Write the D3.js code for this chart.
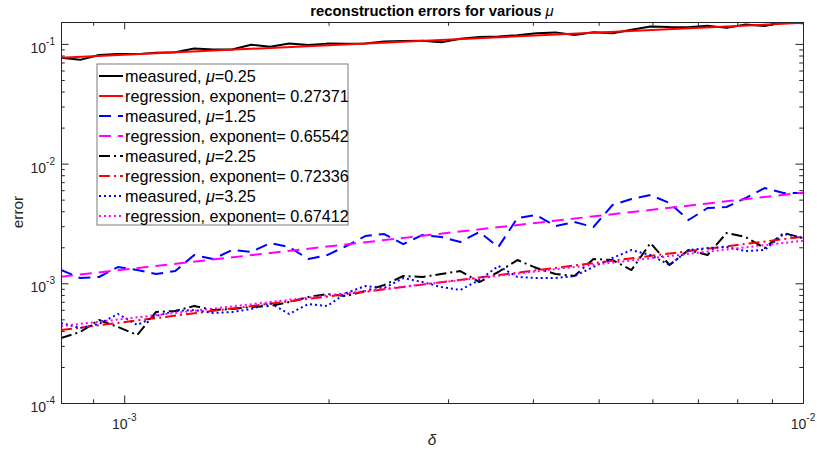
<!DOCTYPE html>
<html>
<head>
<meta charset="utf-8">
<script src="https://cdn.jsdelivr.net/npm/d3@7"></script>
<style>
  body { margin: 0; background: #fff; }
  text { font-family: "Liberation Sans", Arial, Helvetica, sans-serif; fill: #262626; }
</style>
</head>
<body>
<div id="chart"></div>
<script>
// step sizes delta (x values)
var delta = [0.000807, 0.000861, 0.000918, 0.000979, 0.001045, 0.001114, 0.001189, 0.001268,
  0.001352, 0.001442, 0.001538, 0.001641, 0.001750, 0.001867, 0.001991, 0.002124,
  0.002265, 0.002416, 0.002577, 0.002749, 0.002932, 0.003127, 0.003336, 0.003558,
  0.003795, 0.004048, 0.004318, 0.004605, 0.004912, 0.005240, 0.005589, 0.005961,
  0.006358, 0.006782, 0.007234, 0.007716, 0.008230, 0.008779, 0.009364, 0.01];

// measured errors
var err025 = [0.0767, 0.0736, 0.0809, 0.0824, 0.0822, 0.0844, 0.0851, 0.0917,
  0.0898, 0.0897, 0.0985, 0.0946, 0.1009, 0.0979, 0.1006, 0.1002,
  0.1009, 0.1049, 0.1057, 0.1065, 0.1033, 0.1103, 0.1144, 0.1153,
  0.1184, 0.1228, 0.1249, 0.1189, 0.1254, 0.1228, 0.1312, 0.1399,
  0.1383, 0.1381, 0.1419, 0.1362, 0.1454, 0.1410, 0.1520, 0.1488];
var err125 = [1.291e-3, 1.107e-3, 1.129e-3, 1.368e-3, 1.291e-3, 1.196e-3, 1.267e-3, 1.723e-3,
  1.596e-3, 1.897e-3, 1.826e-3, 2.171e-3, 2.010e-3, 1.596e-3, 1.723e-3, 2.049e-3,
  2.484e-3, 2.581e-3, 2.129e-3, 2.532e-3, 2.437e-3, 2.213e-3, 2.683e-3, 2.010e-3,
  3.512e-3, 3.721e-3, 3.010e-3, 3.251e-3, 2.953e-3, 4.510e-3, 5.061e-3, 5.466e-3,
  4.687e-3, 3.379e-3, 4.257e-3, 4.340e-3, 5.160e-3, 6.254e-3, 5.680e-3, 5.680e-3];
var err225 = [3.491e-4, 3.919e-4, 4.935e-4, 4.314e-4, 3.699e-4, 5.758e-4, 5.870e-4, 6.461e-4,
  5.984e-4, 6.100e-4, 6.339e-4, 6.461e-4, 6.980e-4, 7.684e-4, 8.139e-4, 7.833e-4,
  8.623e-4, 9.678e-4, 1.151e-3, 1.129e-3, 1.196e-3, 1.267e-3, 1.025e-3, 1.243e-3,
  1.565e-3, 1.342e-3, 1.196e-3, 1.151e-3, 1.596e-3, 1.565e-3, 1.291e-3, 2.171e-3,
  1.422e-3, 1.897e-3, 1.723e-3, 2.632e-3, 2.437e-3, 1.972e-3, 2.632e-3, 2.390e-3];
var err325 = [4.659e-4, 4.231e-4, 4.571e-4, 5.541e-4, 4.484e-4, 5.332e-4, 5.870e-4, 5.984e-4,
  5.649e-4, 5.758e-4, 6.100e-4, 6.847e-4, 5.541e-4, 6.717e-4, 6.461e-4, 8.298e-4,
  9.494e-4, 9.136e-4, 1.107e-3, 1.025e-3, 9.313e-4, 8.790e-4, 1.066e-3, 1.395e-3,
  1.129e-3, 1.107e-3, 1.107e-3, 1.151e-3, 1.368e-3, 1.627e-3, 1.897e-3, 1.723e-3,
  1.422e-3, 1.897e-3, 1.972e-3, 2.010e-3, 1.861e-3, 1.897e-3, 2.581e-3, 2.390e-3];

// regression lines (end points)
var regDelta = [0.000807, 0.01];
var reg025 = [0.0767, 0.150];
var reg125 = [1.135e-3, 5.72e-3];
var reg225 = [4.07e-4, 2.45e-3];
var reg325 = [4.39e-4, 2.27e-3];

var legendLabels = [
  ["measured, ", "\u03bc", "=0.25"],
  ["regression, exponent= 0.27371"],
  ["measured, ", "\u03bc", "=1.25"],
  ["regression, exponent= 0.65542"],
  ["measured, ", "\u03bc", "=2.25"],
  ["regression, exponent= 0.72336"],
  ["measured, ", "\u03bc", "=3.25"],
  ["regression, exponent= 0.67412"]
];

var xMajor = [1e-3, 1e-2];
var yMajor = [1e-4, 1e-3, 1e-2, 1e-1];

var series = [
  { x: delta, y: err025, color: "#000000", dash: null },
  { x: regDelta, y: reg025, color: "#ff0000", dash: null },
  { x: delta, y: err125, color: "#0000ff", dash: "12,7" },
  { x: regDelta, y: reg125, color: "#ff00ff", dash: "12,7" },
  { x: delta, y: err225, color: "#000000", dash: "11,4,2,4" },
  { x: regDelta, y: reg225, color: "#ff0000", dash: "11,4,2,4" },
  { x: delta, y: err325, color: "#0000ff", dash: "2,3" },
  { x: regDelta, y: reg325, color: "#ff00ff", dash: "2,3" }
];

var svgWidth = 817, svgHeight = 452;
var margin = { top: 22, right: 14, bottom: 49, left: 61 };
var chartWidth = svgWidth - margin.left - margin.right;
var chartHeight = svgHeight - margin.top - margin.bottom;

var svg = d3.select("#chart").append("svg")
  .attr("width", svgWidth)
  .attr("height", svgHeight);

var g = svg.append("g")
  .attr("transform", `translate(${margin.left}, ${margin.top})`);

var x = d3.scaleLog().domain([0.000807, 0.01]).range([0, chartWidth]);
var y = d3.scaleLog().domain([1e-4, 0.1525]).range([chartHeight, 0]);

// minor ticks
var xMinor = [];
[1e-4, 1e-3].forEach(function(d) {
  for (var i = 2; i <= 9; i++) {
    var v = d * i;
    if (v >= x.domain()[0] && v <= x.domain()[1]) xMinor.push(v);
  }
});
var yMinor = [];
[1e-4, 1e-3, 1e-2, 1e-1].forEach(function(d) {
  for (var i = 2; i <= 9; i++) {
    var v = d * i;
    if (v <= y.domain()[1]) yMinor.push(v);
  }
});

g.append("clipPath").attr("id", "clip")
  .append("rect").attr("width", chartWidth).attr("height", chartHeight);

// lines
var line = d3.line()
  .x(function(d) { return x(d[0]); })
  .y(function(d) { return y(d[1]); });

var plot = g.append("g").attr("clip-path", "url(#clip)");
series.forEach(function(s) {
  var pts = s.x.map(function(d, i) { return [d, s.y[i]]; });
  plot.append("path")
    .datum(pts)
    .attr("d", line)
    .attr("fill", "none")
    .attr("stroke", s.color)
    .attr("stroke-width", 2)
    .attr("stroke-linejoin", "round")
    .attr("stroke-dasharray", s.dash);
});

// axes: ticks pointing inwards, box on
function drawAxis(axisFn, scale, vals, size, transform) {
  var a = g.append("g").attr("transform", transform)
    .call(axisFn(scale).tickValues(vals).tickFormat("").tickSizeInner(size).tickSizeOuter(0));
  a.selectAll("line").attr("stroke", "#262626");
  a.select(".domain").attr("stroke", "#262626");
  return a;
}
drawAxis(d3.axisBottom, x, xMajor, -7.5, `translate(0,${chartHeight})`);
drawAxis(d3.axisBottom, x, xMinor, -3.75, `translate(0,${chartHeight})`);
drawAxis(d3.axisTop, x, xMajor, -7.5, "translate(0,0)");
drawAxis(d3.axisTop, x, xMinor, -3.75, "translate(0,0)");
drawAxis(d3.axisLeft, y, yMajor, -7.5, "translate(0,0)");
drawAxis(d3.axisLeft, y, yMinor, -3.75, "translate(0,0)");
drawAxis(d3.axisRight, y, yMajor, -7.5, `translate(${chartWidth},0)`);
drawAxis(d3.axisRight, y, yMinor, -3.75, `translate(${chartWidth},0)`);

// tick labels as 10^n
function expLabel(sel) {
  sel.append("tspan").attr("font-size", 14).text("10");
  sel.append("tspan").attr("font-size", 10).attr("dy", -8)
    .text(function(d) { return String(Math.round(Math.log10(d))); });
}
g.selectAll(".ylab").data(yMajor).enter().append("text")
  .attr("class", "ylab")
  .attr("x", -6)
  .attr("y", function(d) { return y(d) + 9; })
  .attr("text-anchor", "end")
  .call(expLabel);

g.selectAll(".xlab").data(xMajor).enter().append("text")
  .attr("class", "xlab")
  .attr("x", function(d) { return x(d); })
  .attr("y", chartHeight + 26)
  .attr("text-anchor", "middle")
  .call(expLabel);

// axis labels
g.append("text")
  .attr("transform", "rotate(-90)")
  .attr("x", -(212 - margin.top))
  .attr("y", -38)
  .attr("text-anchor", "middle")
  .attr("font-size", 15.4)
  .text("error");

g.append("text")
  .attr("x", chartWidth / 2)
  .attr("y", chartHeight + 42)
  .attr("text-anchor", "middle")
  .attr("font-size", 15.4)
  .attr("font-style", "italic")
  .attr("font-family", "'DejaVu Serif', serif")
  .text("\u03b4");

// title
var title = g.append("text")
  .attr("x", chartWidth / 2)
  .attr("y", -6)
  .attr("text-anchor", "middle")
  .attr("font-size", 14.8)
  .attr("font-weight", "bold")
  .style("fill", "#000");
title.append("tspan").text("reconstruction errors for various ");
title.append("tspan").attr("font-style", "italic").attr("font-weight", "normal").text("\u03bc");

// legend
var legend = svg.append("g").attr("transform", "translate(97,64)");
legend.append("rect")
  .attr("width", 251).attr("height", 161)
  .attr("fill", "#fff")
  .attr("stroke", "#7a7a7a")
  .attr("stroke-width", 1);

legendLabels.forEach(function(lab, i) {
  var row = legend.append("g").attr("transform", `translate(0,${12 + i * 20})`);
  row.append("line")
    .attr("x1", 2).attr("x2", 26).attr("y1", 0).attr("y2", 0)
    .attr("stroke", series[i].color)
    .attr("stroke-width", 2)
    .attr("stroke-dasharray", series[i].dash);
  var t = row.append("text")
    .attr("x", 28).attr("y", 5.5)
    .attr("font-size", 16.2)
    .style("fill", "#000");
  lab.forEach(function(part) {
    var sp = t.append("tspan").text(part);
    if (part === "\u03bc") sp.attr("font-style", "italic");
  });
});
</script>
</body>
</html>
